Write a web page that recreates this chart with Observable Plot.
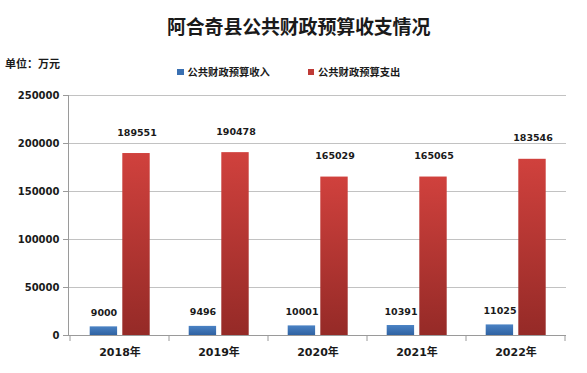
<!DOCTYPE html>
<html>
<head>
<meta charset="utf-8">
<script src="https://cdn.jsdelivr.net/npm/d3@7"></script>
<script src="https://cdn.jsdelivr.net/npm/@observablehq/plot@0.6"></script>
<style>
  html, body { margin: 0; padding: 0; background: #ffffff; }
  #wrap { position: relative; width: 587px; height: 373px; overflow: hidden; font-family: 'Noto Sans CJK SC', sans-serif; color: #1a1a1a; }
  #chart { position: absolute; left: 0; top: 0; }
  .abs { position: absolute; white-space: nowrap; line-height: 1; }
  #title { left: 167px; top: 16px; font-size: 19px; font-weight: 700; letter-spacing: -0.2px; }
  #unit { left: 5px; top: 58px; font-size: 11px; font-weight: 700; }
  .sw { position: absolute; width: 6.5px; height: 6.5px; }
  .lg { font-size: 10.3px; font-weight: 700; }
</style>
</head>
<body>
<div id="wrap">
  <div id="chart"></div>
  <div id="title" class="abs"></div>
  <div id="unit" class="abs"></div>
  <div id="legend"></div>
</div>
<script>
// ---- data ----
const titleText = "阿合奇县公共财政预算收支情况";
const unitText = "单位：万元";
const years = ["2018年", "2019年", "2020年", "2021年", "2022年"];
const income = [9000, 9496, 10001, 10391, 11025];
const expenditure = [189551, 190478, 165029, 165065, 183546];
const seriesNames = ["公共财政预算收入", "公共财政预算支出"];
const yTicks = [0, 50000, 100000, 150000, 200000, 250000];

const incomeRows = years.map((y, i) => ({year: y, value: income[i]}));
const expRows = years.map((y, i) => ({year: y, value: expenditure[i]}));

const axisColor = "#9a9a9a";
const textColor = "#1a1a1a";

const chart = Plot.plot({
  width: 587,
  height: 373,
  marginLeft: 68,
  marginRight: 21,
  marginTop: 95,
  marginBottom: 38,
  x: {domain: years, padding: 0, label: null},
  y: {domain: [0, 250000], label: null},
  style: {fontFamily: "'DejaVu Sans','Noto Sans CJK SC',sans-serif", color: textColor, background: "transparent"},
  marks: [
    Plot.gridY(yTicks, {stroke: "#c2c2c2", strokeOpacity: 1}),
    Plot.frame({anchor: "left", stroke: axisColor}),
    Plot.ruleY([0], {stroke: axisColor}),
    Plot.axisY(yTicks, {label: null, tickSize: 5, tickPadding: 4, tickFormat: d3.format("d"), fontWeight: "bold", fontSize: 10, stroke: axisColor, fill: textColor}),
    Plot.axisX({label: null, tickSize: 0, tickPadding: 13, fontWeight: "bold", fontSize: 11, fill: textColor}),
    Plot.barY(incomeRows, {x: "year", y: "value", fill: "url(#gBlue)", insetLeft: 19.7, insetRight: 51.9}),
    Plot.barY(expRows, {x: "year", y: "value", fill: "url(#gRed)", insetLeft: 52.3, insetRight: 19.3}),
    Plot.text(incomeRows, {x: "year", y: "value", text: d => String(d.value), dx: -16, dy: -14, fontSize: 9.5, fontWeight: "bold", fill: textColor}),
    Plot.text(expRows, {x: "year", y: "value", text: d => String(d.value), dx: 17, dy: -21, fontSize: 9.5, fontWeight: "bold", fill: textColor})
  ]
});

// gradients
const svg = d3.select(chart);
const defs = svg.insert("defs", ":first-child");
function grad(id, top, bottom) {
  const g = defs.append("linearGradient").attr("id", id).attr("x1", 0).attr("y1", 0).attr("x2", 0).attr("y2", 1);
  g.append("stop").attr("offset", "0%").attr("stop-color", top);
  g.append("stop").attr("offset", "100%").attr("stop-color", bottom);
}
grad("gBlue", "#4a82c4", "#2f62a2");
grad("gRed", "#d0413d", "#952a27");

// band boundary ticks on the x axis (derived from the scales)
const xs = chart.scale("x");
const ys = chart.scale("y");
const y0 = ys.apply(0);
const bounds = years.map(d => xs.apply(d));
bounds.push(xs.apply(years[years.length - 1]) + xs.bandwidth);
svg.append("g").selectAll("line").data(bounds).join("line")
  .attr("x1", d => d).attr("x2", d => d)
  .attr("y1", y0).attr("y2", y0 + 6)
  .attr("stroke", axisColor);

document.getElementById("chart").appendChild(chart);
document.getElementById("title").textContent = titleText;
document.getElementById("unit").textContent = unitText;

// legend
const legendColors = ["#3a70b2", "#bf3a36"];
const swLeft = [177, 307.5];
const txtLeft = [187.5, 318];
const legend = document.getElementById("legend");
seriesNames.forEach((name, i) => {
  const sw = document.createElement("div");
  sw.className = "sw";
  sw.style.left = swLeft[i] + "px";
  sw.style.top = "68.5px";
  sw.style.background = legendColors[i];
  legend.appendChild(sw);
  const t = document.createElement("div");
  t.className = "abs lg";
  t.style.left = txtLeft[i] + "px";
  t.style.top = "66.5px";
  t.textContent = name;
  legend.appendChild(t);
});
</script>
</body>
</html>
